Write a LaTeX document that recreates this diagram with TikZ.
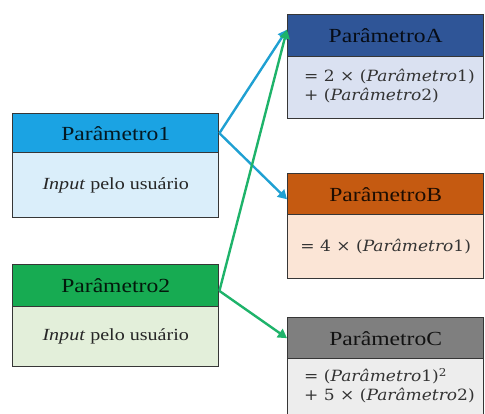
\documentclass[tikz,border=0pt]{standalone}
\usepackage{fontspec}
\setmainfont[FakeStretch=1.18]{Liberation Serif}
\newfontfamily\mathlike[FakeStretch=1.1]{DejaVu Serif}
\usetikzlibrary{arrows.meta,calc}
\definecolor{bord}{HTML}{363636}
\definecolor{h1}{HTML}{1BA3E3}
\definecolor{b1}{HTML}{DAEEFA}
\definecolor{h2}{HTML}{17AB52}
\definecolor{b2}{HTML}{E3EFDA}
\definecolor{hA}{HTML}{2F5597}
\definecolor{bA}{HTML}{DAE1F1}
\definecolor{hB}{HTML}{C55A11}
\definecolor{bB}{HTML}{FBE5D6}
\definecolor{hC}{HTML}{7F7F7F}
\definecolor{bC}{HTML}{EDEDED}
\definecolor{arrblue}{HTML}{1FA0D2}
\definecolor{arrgreen}{HTML}{1EB36A}
\begin{document}
\begin{tikzpicture}[x=1pt,y=-1pt,
  cell/.style={draw=bord, line width=1.4pt, anchor=north west, inner sep=0pt},
  lcell/.style={cell, minimum width=206pt},
  rcell/.style={cell, minimum width=196pt},
  headtxt/.style={font=\fontsize{20}{22}\selectfont, text=black, text opacity=0.85},
  bodytxt/.style={font=\fontsize{17}{19}\selectfont, text=black!85},
  mathtxt/.style={font=\mathlike\fontsize{15.5}{19}\selectfont, text=black!80, align=left, inner sep=0pt},
  conn/.style={line width=2.4pt, -{Triangle[length=9pt,width=10pt]}}
]
\clip (0,0) rectangle (485,414);
\useasboundingbox (0,0) rectangle (485,414);
% left boxes
\node[lcell, fill=h1, minimum height=39pt, headtxt] (p1h) at (12,113) {Parâmetro1};
\node[lcell, fill=b1, minimum height=65pt, bodytxt] (p1b) at (12,152) {\textit{Input} pelo usuário};
\node[lcell, fill=h2, minimum height=42pt, headtxt] (p2h) at (12,264) {Parâmetro2};
\node[lcell, fill=b2, minimum height=60pt, bodytxt] (p2b) at (12,306) {\textit{Input} pelo usuário};
% right boxes
\node[rcell, fill=hA, minimum height=42pt, headtxt] (ah) at (287,14) {ParâmetroA};
\node[rcell, fill=bA, minimum height=62pt] (ab) at (287,56) {};
\node[mathtxt, anchor=west] (at) at (304,86) {= 2 × (\textit{Parâmetro}1)\\+ (\textit{Parâmetro}2)};
\node[rcell, fill=hB, minimum height=41pt, headtxt] (bh) at (287,173) {ParâmetroB};
\node[rcell, fill=bB, minimum height=64pt] (bb) at (287,214) {};
\node[mathtxt] (bt) at (bb.center) {= 4 × (\textit{Parâmetro}1)};
\node[rcell, fill=hC, minimum height=41pt, headtxt] (ch) at (287,317) {ParâmetroC};
\node[rcell, fill=bC, minimum height=80pt] (cb) at (287,358) {};
\node[mathtxt, anchor=west] (ct) at (304,386) {= (\textit{Parâmetro}1)\textsuperscript{2}\\+ 5 × (\textit{Parâmetro}2)};
% connectors
\coordinate (aend) at ($(ah.north west)!0.36!(ah.south west)$);
\coordinate (bend) at ($(bh.north west)!0.62!(bh.south west)$);
\coordinate (p2start) at ($(p2h.north east)!0.62!(p2h.south east)$);
\draw[conn, arrblue] (p1h.east) -- (aend);
\draw[conn, arrblue] (p1h.east) -- (bend);
\draw[conn, arrgreen] (p2start) -- (aend);
\draw[conn, arrgreen] (p2start) -- (ch.west);
\end{tikzpicture}
\end{document}
